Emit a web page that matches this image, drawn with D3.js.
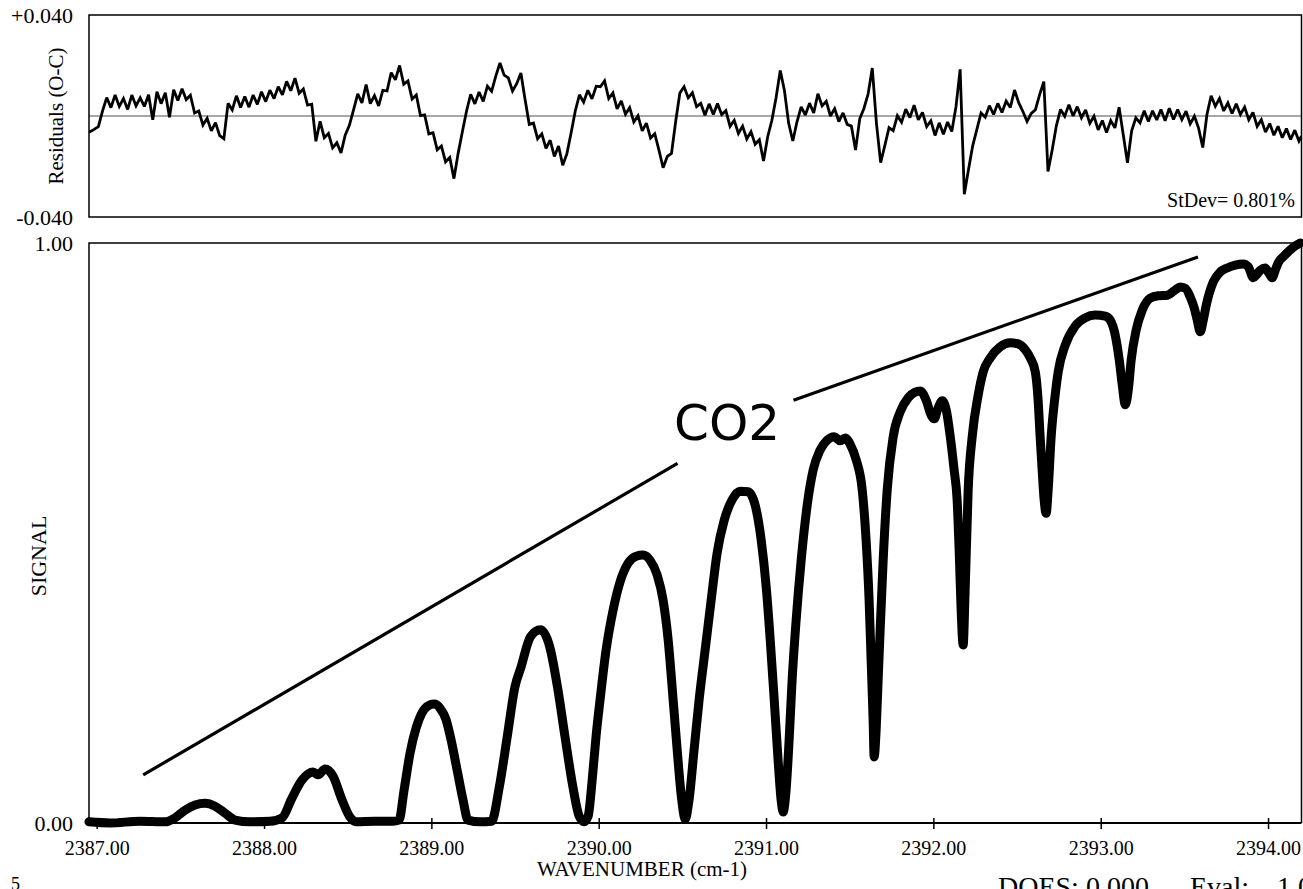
<!DOCTYPE html>
<html><head><meta charset="utf-8">
<script src="https://cdn.jsdelivr.net/npm/d3@7/dist/d3.min.js"></script>
<style>
html,body{margin:0;padding:0;background:#fff;}
svg{display:block;}
text{font-family:"Liberation Serif","Times New Roman",serif;fill:#000;}
</style></head><body>
<svg id="chart" width="1303" height="889"></svg>
<script>
// ---------------- data ----------------
const xTickValues = [2387, 2388, 2389, 2390, 2391, 2392, 2393, 2394];
const residualTickValues = [0.04, -0.04];
const residualTickLabels = ["+0.040", "-0.040"];
const signalTickValues = [1, 0];
const signalTickLabels = ["1.00", "0.00"];
const xTitle = "WAVENUMBER (cm-1)";
const signalTitle = "SIGNAL";
const residualTitle = "Residuals (O-C)";
const stdevLabel = "StDev= 0.801%";
const speciesLabel = "CO2";
const footerLeft = "5";
const footerDoes = "DOES: 0.000";
const footerEval = "Eval:";
const footerEvalValue = "1.0";

// [wavenumber, signal]
const spectrum = [
[2386.954,0.002],[2387.080,0.000],[2387.259,0.003],[2387.408,0.002],[2387.468,0.009],
[2387.528,0.022],[2387.588,0.031],[2387.647,0.034],[2387.707,0.029],[2387.767,0.017],
[2387.827,0.005],[2387.916,0.002],[2388.036,0.003],[2388.108,0.009],[2388.167,0.043],
[2388.227,0.074],[2388.293,0.088],[2388.323,0.083],[2388.365,0.093],[2388.412,0.081],
[2388.466,0.040],[2388.514,0.010],[2388.550,0.002],[2388.663,0.003],[2388.771,0.003],
[2388.807,0.005],[2388.837,0.057],[2388.873,0.121],[2388.909,0.164],[2388.944,0.190],
[2388.980,0.202],[2389.016,0.205],[2389.052,0.198],[2389.088,0.178],[2389.118,0.143],
[2389.154,0.091],[2389.189,0.040],[2389.219,0.005],[2389.291,0.002],[2389.360,0.003],
[2389.406,0.062],[2389.453,0.148],[2389.499,0.234],[2389.536,0.269],[2389.592,0.321],
[2389.652,0.333],[2389.708,0.303],[2389.754,0.234],[2389.799,0.148],[2389.846,0.062],
[2389.883,0.012],[2389.913,0.002],[2389.937,0.012],[2389.961,0.074],[2389.985,0.152],
[2390.008,0.212],[2390.044,0.298],[2390.086,0.367],[2390.128,0.416],[2390.176,0.448],
[2390.224,0.460],[2390.265,0.462],[2390.307,0.453],[2390.349,0.428],[2390.385,0.384],
[2390.415,0.316],[2390.445,0.212],[2390.469,0.126],[2390.493,0.048],[2390.517,0.007],
[2390.540,0.040],[2390.570,0.126],[2390.600,0.212],[2390.636,0.298],[2390.672,0.384],
[2390.708,0.466],[2390.750,0.522],[2390.797,0.557],[2390.845,0.572],[2390.893,0.571],
[2390.935,0.548],[2390.971,0.488],[2391.001,0.407],[2391.025,0.316],[2391.049,0.212],
[2391.072,0.109],[2391.090,0.040],[2391.102,0.019],[2391.120,0.057],[2391.138,0.143],
[2391.156,0.247],[2391.180,0.350],[2391.210,0.453],[2391.246,0.548],[2391.282,0.609],
[2391.323,0.643],[2391.365,0.660],[2391.407,0.666],[2391.443,0.659],[2391.473,0.664],
[2391.503,0.653],[2391.539,0.626],[2391.575,0.574],[2391.598,0.488],[2391.616,0.384],
[2391.628,0.281],[2391.640,0.178],[2391.646,0.114],[2391.658,0.160],[2391.670,0.247],
[2391.682,0.333],[2391.700,0.453],[2391.724,0.574],[2391.760,0.666],[2391.802,0.709],
[2391.849,0.733],[2391.891,0.743],[2391.921,0.745],[2391.957,0.729],[2391.987,0.703],
[2392.005,0.697],[2392.029,0.716],[2392.053,0.728],[2392.077,0.712],[2392.101,0.666],
[2392.124,0.609],[2392.142,0.557],[2392.154,0.471],[2392.166,0.367],[2392.178,0.307],
[2392.190,0.402],[2392.208,0.574],[2392.232,0.666],[2392.268,0.738],[2392.298,0.778],
[2392.340,0.802],[2392.399,0.821],[2392.459,0.828],[2392.507,0.826],[2392.549,0.816],
[2392.579,0.802],[2392.609,0.778],[2392.626,0.729],[2392.638,0.666],[2392.650,0.609],
[2392.662,0.557],[2392.674,0.534],[2392.686,0.574],[2392.704,0.666],[2392.728,0.738],
[2392.746,0.778],[2392.788,0.824],[2392.848,0.857],[2392.907,0.871],[2392.967,0.876],
[2393.027,0.874],[2393.057,0.867],[2393.087,0.841],[2393.111,0.798],[2393.129,0.755],
[2393.147,0.721],[2393.165,0.747],[2393.182,0.798],[2393.212,0.850],[2393.248,0.884],
[2393.296,0.905],[2393.344,0.909],[2393.398,0.910],[2393.445,0.919],[2393.475,0.924],
[2393.505,0.922],[2393.535,0.907],[2393.559,0.888],[2393.577,0.867],[2393.595,0.847],
[2393.613,0.867],[2393.631,0.893],[2393.673,0.933],[2393.714,0.950],[2393.756,0.957],
[2393.804,0.962],[2393.852,0.964],[2393.882,0.959],[2393.912,0.940],[2393.930,0.945],
[2393.954,0.953],[2393.983,0.957],[2394.007,0.947],[2394.025,0.940],[2394.043,0.953],
[2394.061,0.966],[2394.097,0.978],[2394.133,0.988],[2394.163,0.995],[2394.193,1.000]
];

// [wavenumber, residual (O-C)]
const residual = [
[2386.954,-0.0064],
[2386.960,-0.0062],[2386.985,-0.0053],[2387.010,-0.0042],[2387.035,0.0020],[2387.060,0.0073],[2387.085,0.0033],[2387.110,0.0083],[2387.135,0.0038],[2387.160,0.0069],[2387.185,0.0026],
[2387.210,0.0083],[2387.235,0.0040],[2387.260,0.0072],[2387.285,0.0038],[2387.310,0.0084],[2387.335,-0.0015],[2387.360,0.0096],[2387.385,0.0049],[2387.410,0.0092],[2387.435,-0.0005],
[2387.460,0.0104],[2387.485,0.0061],[2387.510,0.0108],[2387.535,0.0065],[2387.560,0.0082],[2387.585,0.0012],[2387.610,0.0020],[2387.635,-0.0036],[2387.660,-0.0009],[2387.685,-0.0059],
[2387.710,-0.0026],[2387.735,-0.0078],[2387.760,-0.0090],[2387.785,0.0050],[2387.810,0.0024],[2387.835,0.0080],[2387.860,0.0034],[2387.885,0.0077],[2387.910,0.0035],[2387.935,0.0083],
[2387.960,0.0046],[2387.985,0.0096],[2388.010,0.0057],[2388.035,0.0102],[2388.060,0.0069],[2388.085,0.0116],[2388.110,0.0084],[2388.135,0.0137],[2388.160,0.0100],[2388.185,0.0150],
[2388.210,0.0090],[2388.235,0.0107],[2388.260,0.0043],[2388.285,0.0047],[2388.310,-0.0100],[2388.335,-0.0021],[2388.360,-0.0086],[2388.385,-0.0069],[2388.410,-0.0126],[2388.435,-0.0106],
[2388.460,-0.0146],[2388.485,-0.0076],[2388.510,-0.0037],[2388.535,0.0024],[2388.560,0.0088],[2388.585,0.0052],[2388.610,0.0125],[2388.635,0.0049],[2388.660,0.0081],[2388.685,0.0040],
[2388.710,0.0102],[2388.735,0.0099],[2388.760,0.0172],[2388.785,0.0143],[2388.810,0.0200],[2388.835,0.0126],[2388.860,0.0139],[2388.885,0.0067],[2388.910,0.0083],[2388.935,0.0001],
[2388.960,0.0004],[2388.985,-0.0071],[2389.010,-0.0066],[2389.035,-0.0134],[2389.060,-0.0119],[2389.085,-0.0182],[2389.110,-0.0164],[2389.135,-0.0248],[2389.160,-0.0148],[2389.185,-0.0063],
[2389.210,0.0019],[2389.235,0.0086],[2389.260,0.0048],[2389.285,0.0095],[2389.310,0.0058],[2389.335,0.0118],[2389.360,0.0098],[2389.385,0.0158],[2389.410,0.0210],[2389.435,0.0162],
[2389.460,0.0151],[2389.485,0.0099],[2389.510,0.0128],[2389.535,0.0170],[2389.560,0.0065],[2389.585,-0.0033],[2389.610,-0.0028],[2389.635,-0.0090],[2389.660,-0.0071],[2389.685,-0.0128],
[2389.710,-0.0096],[2389.735,-0.0160],[2389.760,-0.0119],[2389.785,-0.0195],[2389.810,-0.0149],[2389.835,-0.0067],[2389.860,0.0020],[2389.885,0.0084],[2389.910,0.0055],[2389.935,0.0102],
[2389.960,0.0068],[2389.985,0.0118],[2390.010,0.0116],[2390.035,0.0139],[2390.060,0.0069],[2390.085,0.0091],[2390.110,0.0028],[2390.135,0.0060],[2390.160,0.0007],[2390.185,0.0033],
[2390.210,-0.0024],[2390.235,0.0001],[2390.260,-0.0059],[2390.285,-0.0028],[2390.310,-0.0087],[2390.335,-0.0070],[2390.360,-0.0135],[2390.385,-0.0205],[2390.410,-0.0160],[2390.435,-0.0148],
[2390.460,-0.0022],[2390.485,0.0091],[2390.510,0.0116],[2390.535,0.0072],[2390.560,0.0092],[2390.585,0.0037],[2390.610,0.0050],[2390.635,0.0003],[2390.660,0.0048],[2390.685,0.0006],
[2390.710,0.0049],[2390.735,0.0006],[2390.760,0.0021],[2390.785,-0.0041],[2390.810,-0.0017],[2390.835,-0.0069],[2390.860,-0.0040],[2390.885,-0.0091],[2390.910,-0.0062],[2390.935,-0.0112],
[2390.960,-0.0094],[2390.985,-0.0178],[2391.010,-0.0082],[2391.035,-0.0017],[2391.060,0.0072],[2391.085,0.0180],[2391.110,0.0101],[2391.135,-0.0028],[2391.160,-0.0099],[2391.185,-0.0023],
[2391.210,0.0036],[2391.235,0.0004],[2391.260,0.0051],[2391.285,0.0012],[2391.310,0.0088],[2391.335,0.0040],[2391.360,0.0058],[2391.385,0.0000],[2391.410,0.0029],[2391.435,-0.0022],
[2391.460,0.0012],[2391.485,-0.0033],[2391.510,-0.0040],[2391.535,-0.0135],[2391.560,-0.0011],[2391.585,0.0030],[2391.610,0.0087],[2391.635,0.0190],[2391.660,-0.0030],[2391.685,-0.0185],
[2391.710,-0.0117],[2391.735,-0.0046],[2391.760,-0.0058],[2391.785,0.0001],[2391.810,-0.0025],[2391.835,0.0027],[2391.860,-0.0006],[2391.885,0.0043],[2391.910,-0.0015],[2391.935,0.0014],
[2391.960,-0.0042],[2391.985,-0.0019],[2392.010,-0.0077],[2392.035,-0.0027],[2392.060,-0.0072],[2392.085,-0.0024],[2392.110,-0.0061],[2392.135,0.0036],[2392.160,0.0185],[2392.185,-0.0310],
[2392.210,-0.0212],[2392.235,-0.0118],[2392.260,-0.0053],[2392.285,0.0012],[2392.310,-0.0005],[2392.335,0.0041],[2392.360,0.0006],[2392.385,0.0050],[2392.410,0.0014],[2392.435,0.0059],
[2392.460,0.0034],[2392.485,0.0103],[2392.510,0.0053],[2392.535,0.0018],[2392.560,-0.0022],[2392.585,0.0010],[2392.610,0.0025],[2392.635,0.0085],[2392.660,0.0136],[2392.685,-0.0220],
[2392.710,-0.0135],[2392.735,-0.0039],[2392.760,0.0026],[2392.785,-0.0001],[2392.810,0.0045],[2392.835,0.0000],[2392.860,0.0037],[2392.885,-0.0007],[2392.910,0.0024],[2392.935,-0.0029],
[2392.960,-0.0001],[2392.985,-0.0055],[2393.010,-0.0018],[2393.035,-0.0066],[2393.060,-0.0018],[2393.085,-0.0047],[2393.110,0.0035],[2393.135,-0.0075],[2393.160,-0.0185],[2393.185,-0.0059],
[2393.210,-0.0007],[2393.235,-0.0027],[2393.260,0.0021],[2393.285,-0.0022],[2393.310,0.0021],[2393.335,-0.0016],[2393.360,0.0026],[2393.385,-0.0019],[2393.410,0.0031],[2393.435,-0.0014],
[2393.460,0.0026],[2393.485,-0.0014],[2393.510,0.0019],[2393.535,-0.0031],[2393.560,-0.0001],[2393.585,-0.0048],[2393.610,-0.0125],[2393.635,0.0006],[2393.660,0.0080],[2393.685,0.0039],
[2393.710,0.0069],[2393.735,0.0020],[2393.760,0.0052],[2393.785,0.0010],[2393.810,0.0048],[2393.835,0.0006],[2393.860,0.0035],[2393.885,-0.0015],[2393.910,0.0014],[2393.935,-0.0041],
[2393.960,-0.0015],[2393.985,-0.0064],[2394.010,-0.0030],[2394.035,-0.0076],[2394.060,-0.0041],[2394.085,-0.0086],[2394.110,-0.0050],[2394.135,-0.0093],[2394.160,-0.0056],[2394.185,-0.0099],[2394.200,-0.0080]
];

// guide strokes around the CO2 label, in data coordinates
const co2GuideLeft = [[2387.278, 0.083], [2390.471, 0.620]];
const co2GuideRight = [[2391.164, 0.729], [2393.581, 0.976]];

// ---------------- layout ----------------
const W = 1303, H = 889;
const plotLeft = 89, plotRight = 1301.5;
const resTop = 15, resBottom = 217;
const sigTop = 243, sigBottom = 823;

const svg = d3.select("#chart");
svg.append("rect").attr("width", W).attr("height", H).attr("fill", "#fff");

const x = d3.scaleLinear().domain([2386.954, 2394.2]).range([plotLeft, plotRight]);
const yRes = d3.scaleLinear().domain([-0.04, 0.04]).range([resBottom, resTop]);
const ySig = d3.scaleLinear().domain([0, 1]).range([sigBottom, sigTop]);

// ---- residual panel ----
svg.append("clipPath").attr("id", "resClip").append("rect")
  .attr("x", plotLeft).attr("y", resTop).attr("width", plotRight - plotLeft).attr("height", resBottom - resTop);

svg.append("line")
  .attr("x1", plotLeft).attr("x2", plotRight)
  .attr("y1", yRes(0)).attr("y2", yRes(0))
  .attr("stroke", "#8a8a8a").attr("stroke-width", 1.3);

svg.append("path")
  .datum(residual)
  .attr("clip-path", "url(#resClip)")
  .attr("fill", "none").attr("stroke", "#000").attr("stroke-width", 2.8)
  .attr("stroke-linejoin", "miter").attr("stroke-miterlimit", 2.5)
  .attr("d", d3.line().x(d => x(d[0])).y(d => yRes(d[1])));

svg.append("rect")
  .attr("x", plotLeft).attr("y", resTop)
  .attr("width", plotRight - plotLeft).attr("height", resBottom - resTop)
  .attr("fill", "none").attr("stroke", "#000").attr("stroke-width", 1.5);

residualTickValues.forEach((v, i) => {
  svg.append("text")
    .attr("x", 73).attr("y", yRes(v))
    .attr("text-anchor", "end").attr("dominant-baseline", "central")
    .style("font-size", "22px").text(residualTickLabels[i]);
});

svg.append("text")
  .attr("transform", `translate(63,${(resTop + resBottom) / 2}) rotate(-90)`)
  .attr("text-anchor", "middle").style("font-size", "21px").text(residualTitle);

svg.append("text")
  .attr("x", 1295).attr("y", 207).attr("text-anchor", "end")
  .style("font-size", "20px").text(stdevLabel);

// ---- signal panel ----
svg.append("path")
  .attr("fill", "none").attr("stroke", "#000").attr("stroke-width", 1.5)
  .attr("d", `M${plotLeft},${sigBottom}V${sigTop}H${plotRight}V${sigBottom}`);

const xAxis = d3.axisBottom(x).tickValues(xTickValues)
  .tickFormat(d3.format(".2f")).tickSizeInner(6).tickSizeOuter(0);
const gx = svg.append("g").attr("transform", `translate(0,${sigBottom})`).call(xAxis);
gx.select(".domain").remove();
gx.append("line").attr("x1", plotLeft).attr("x2", plotRight)
  .attr("stroke", "#000").attr("stroke-width", 1.8);
gx.selectAll(".tick line").attr("y1", -5).attr("y2", 6).attr("stroke", "#000").attr("stroke-width", 1.5);
gx.selectAll(".tick text").attr("y", 18).attr("dy", "0.71em")
  .style("font-family", "'Liberation Serif','Times New Roman',serif")
  .style("font-size", "20px").attr("fill", "#000");

signalTickValues.forEach((v, i) => {
  svg.append("text")
    .attr("x", 73).attr("y", ySig(v))
    .attr("text-anchor", "end").attr("dominant-baseline", "central")
    .style("font-size", "22px").text(signalTickLabels[i]);
});

svg.append("text")
  .attr("transform", `translate(46,556) rotate(-90)`)
  .attr("text-anchor", "middle").style("font-size", "22px").text(signalTitle);

svg.append("text")
  .attr("x", 642).attr("y", 876).attr("text-anchor", "middle")
  .style("font-size", "21px").text(xTitle);

// CO2 guide lines
const guideLine = d3.line().x(d => x(d[0])).y(d => ySig(d[1]));
[co2GuideLeft, co2GuideRight].forEach(g => {
  svg.append("path").datum(g).attr("d", guideLine)
    .attr("stroke", "#000").attr("stroke-width", 3.2).attr("fill", "none");
});

// spectrum
svg.append("path")
  .datum(spectrum)
  .attr("fill", "none").attr("stroke", "#000").attr("stroke-width", 9)
  .attr("stroke-linejoin", "round").attr("stroke-linecap", "round")
  .attr("d", d3.line().x(d => x(d[0])).y(d => ySig(d[1])).curve(d3.curveMonotoneX));

svg.append("text")
  .attr("x", 674).attr("y", 440)
  .style("font-family", "'DejaVu Sans',sans-serif").style("font-size", "50px")
  .text(speciesLabel);

// footer texts
svg.append("text").attr("x", 11).attr("y", 890).style("font-size", "18px").text(footerLeft);
svg.append("text").attr("x", 998).attr("y", 896).style("font-size", "28px").text(footerDoes);
svg.append("text").attr("x", 1190).attr("y", 896).style("font-size", "28px").text(footerEval);
svg.append("text").attr("x", 1277).attr("y", 896).style("font-size", "28px").text(footerEvalValue);
</script>
</body></html>
